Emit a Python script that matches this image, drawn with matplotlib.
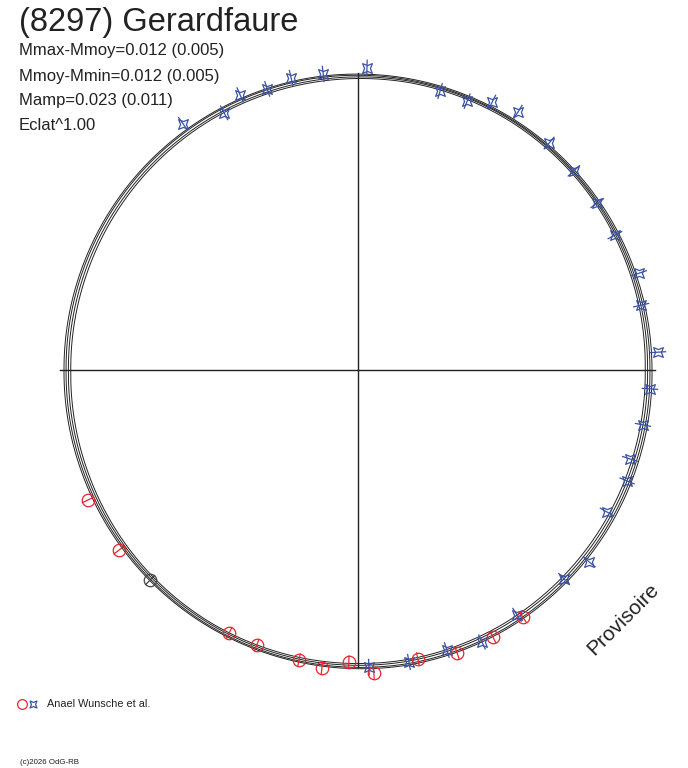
import numpy as np
import matplotlib
matplotlib.use("Agg")
import matplotlib.pyplot as plt
from matplotlib.path import Path
from matplotlib.patches import PathPatch

plt.rcParams['font.family'] = ['Liberation Sans', 'DejaVu Sans']

# title / stats text
title = "(8297) Gerardfaure"
stats = ["Mmax-Mmoy=0.012 (0.005)", "Mmoy-Mmin=0.012 (0.005)",
         "Mamp=0.023 (0.011)", "Eclat^1.00"]
legend_label = "Anael Wunsche et al."

# model curves, relative radius every 20 deg (0..340)
curve_ang = list(range(0, 360, 20))
curve_1 = [1.000, 1.000, 1.002, 1.004, 1.006, 1.007, 1.005, 1.003, 1.001, 1.000, 1.002, 1.006, 1.010, 1.014, 1.018, 1.016, 1.010, 1.004]
curve_2 = [0.993, 0.994, 0.997, 1.000, 1.002, 1.003, 1.001, 0.998, 0.995, 0.993, 0.996, 1.001, 1.006, 1.010, 1.013, 1.011, 1.004, 0.997]
curve_3 = [0.985, 0.988, 0.993, 0.997, 0.998, 0.996, 0.993, 0.990, 0.987, 0.985, 0.989, 0.995, 1.000, 1.004, 1.005, 1.002, 0.996, 0.989]
curve_4 = [0.977, 0.982, 0.988, 0.992, 0.993, 0.990, 0.987, 0.983, 0.979, 0.977, 0.982, 0.989, 0.995, 0.998, 0.999, 0.995, 0.988, 0.981]

# observations (phase angle in deg, relative radius)
blue_ang = [125.4, 117.5, 113.2, 107.9, 102.9, 96.7, 88.3, 73.6, 67.9, 63.4, 58.2, 49.9, 42.7, 34.9, 27.7,
            19.0, 12.9, 3.4, -3.7, -10.9, -18.1, -22.4, -29.7, -39.7, -45.4, -57.0, -65.5, -72.4, -80.1, -87.9]
blue_r = [1.027, 0.986, 1.018, 1.005, 1.019, 1.014, 1.028, 0.989, 0.987, 1.019, 1.033, 1.009, 0.999, 0.992, 0.987,
          1.011, 0.988, 1.022, 0.995, 0.987, 0.973, 0.990, 0.975, 1.022, 0.998, 0.993, 1.017, 0.999, 1.008, 1.011]
red_ang = [205.7, 217.0, 243.9, 249.8, 258.5, 263.1, 268.2, 273.0, 281.7, 289.3, 296.8, 303.7]
red_r = [1.019, 1.018, 0.996, 0.997, 1.007, 1.021, 0.994, 1.032, 1.004, 1.020, 1.018, 1.010]
black_ang = [225.3]
black_r = [1.005]

BLUE = '#3a52a6'
RED = '#e8242c'
INK = '#222222'

# concave 4 point star marker
star = Path([(1, 1), (0, 0.6), (-1, 1), (-0.6, 0), (-1, -1), (0, -0.6), (1, -1), (0.6, 0), (1, 1)],
            [Path.MOVETO] + [Path.LINETO] * 7 + [Path.CLOSEPOLY])

W, H = 688, 768
fig = plt.figure(figsize=(W / 100, H / 100), dpi=100)
fig.patch.set_facecolor('white')

cx, cy, R = 358, 370, 294.0
rmax = 1.1
half = R * rmax
ax = fig.add_axes([(cx - half) / W, (H - cy - half) / H, 2 * half / W, 2 * half / H], projection='polar')
ax.set_ylim(0, rmax)
ax.grid(False)
ax.set_xticks([])
ax.set_yticks([])
ax.spines['polar'].set_visible(False)
ax.patch.set_alpha(0)

# cross
for t, rr in [(0, 1.01), (90, 1.01), (180, 1.014), (270, 1.01)]:
    ax.plot([np.radians(t)] * 2, [0, rr], color=INK, lw=1.0)

# model curves (polar transform draws the arcs between samples)
th = np.radians(curve_ang + [360])
for c in [curve_1, curve_2, curve_3, curve_4]:
    p = Path(np.column_stack([th, c + [c[0]]]), _interpolation_steps=40)
    ax.add_patch(PathPatch(p, fill=False, edgecolor=INK, lw=0.7))

# observations with radial ticks
def obs(angs, rs, color, marker, ms, tick):
    t = np.radians(angs)
    for a, r in zip(t, rs):
        ax.plot([a, a], [r - tick, r + tick], color=color, lw=0.9, clip_on=False)
    ax.plot(t, rs, ls='none', marker=marker, ms=ms, mfc='none', mec=color, mew=0.9, clip_on=False)

obs(blue_ang, blue_r, BLUE, star, 7, 0.026)
obs(red_ang, red_r, RED, 'o', 9, 0.021)
obs(black_ang, black_r, '#444444', 'o', 9, 0.021)

# texts
fig.text(19 / W, 1 - 23 / H, title, fontsize=23.5, color=INK, va='center', ha='left')
for i, s in enumerate(stats):
    fig.text(19 / W, 1 - (51 + 25 * i) / H, s, fontsize=12, color=INK, va='center', ha='left')

fig.text(623 / W, 1 - 619 / H, "Provisoire", fontsize=15, color=INK, rotation=45,
         ha='center', va='center')

# legend
lax = fig.add_axes([0, 0, 1, 1])
lax.set_xlim(0, W)
lax.set_ylim(H, 0)
lax.axis('off')
lax.plot([22], [704], ls='none', marker='o', ms=7, mfc='none', mec=RED, mew=0.9)
lax.plot([33], [704], ls='none', marker=star, ms=5, mfc='none', mec=BLUE, mew=0.9)
lax.text(47, 704, legend_label, fontsize=7.8, color=INK, va='center', ha='left')
lax.text(20, 762, "(c)2026 OdG-RB", fontsize=5.7, color=INK, va='center', ha='left')

fig.savefig("out.png", dpi=100, facecolor='white')
